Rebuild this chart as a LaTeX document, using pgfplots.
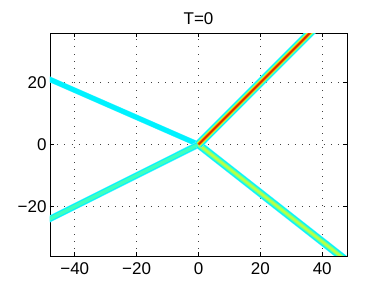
\documentclass[border=0pt]{standalone}
\usepackage{pgfplots}
\pgfplotsset{compat=1.18}
\usepackage{fontspec}
\setmainfont{Liberation Sans}
\definecolor{jcyan}{rgb}{0.0,0.95,1.0}
\definecolor{jaqua}{rgb}{0.25,1.0,0.75}
\definecolor{jgreen}{rgb}{0.5,1.0,0.5}
\definecolor{jyellow}{rgb}{0.85,1.0,0.15}
\definecolor{jorange}{rgb}{1.0,0.55,0.0}
\definecolor{jred}{rgb}{0.85,0.15,0.0}
\pgfplotstableread{
x y
0 0
40 40
}\lineA
\pgfplotstableread{
x y
0 0
-50 21.875
}\lineB
\pgfplotstableread{
x y
0 0
-50 -25
}\lineC
\pgfplotstableread{
x y
0 0
50 -39.2
}\lineD
\begin{document}
\begin{tikzpicture}[x=1pt,y=1pt]
\path[use as bounding box] (0,0) rectangle (384,288);
\begin{axis}[
  at={(50pt,32pt)}, anchor=south west,
  scale only axis, width=297pt, height=223pt,
  xmin=-48, xmax=48, ymin=-36, ymax=36,
  xtick={-40,-20,0,20,40}, ytick={-20,0,20},
  xticklabels={−40,−20,0,20,40},
  yticklabels={−20,0,20},
  tick align=inside, major tick length=4pt,
  tick style={black, line width=0.5pt},
  axis line style={black, line width=0.8pt},
  grid=major,
  major grid style={black!75, line width=0.6pt, dash pattern=on 0.7pt off 6.5pt},
  tick label style={font=\fontsize{17}{20}\selectfont},
  xticklabel style={yshift=-3pt},
  title={T=0},
  title style={font=\fontsize{17}{20}\selectfont, yshift=-1pt},
  clip=true,
]
% line B (cyan only)
\addplot[jcyan!60, line width=5.5pt] table {\lineB};
\addplot[jcyan, line width=4.8pt] table {\lineB};
% line C
\addplot[jcyan!60, line width=6.5pt] table {\lineC};
\addplot[jcyan, line width=5.5pt] table {\lineC};
\addplot[jaqua, line width=3.5pt] table {\lineC};
% line D
\addplot[jcyan!60, line width=8pt] table {\lineD};
\addplot[jcyan, line width=7pt] table {\lineD};
\addplot[jaqua, line width=5pt] table {\lineD};
\addplot[jgreen, line width=3.5pt] table {\lineD};
\addplot[jyellow!70!jgreen, line width=1.8pt] table {\lineD};
% line A
\addplot[jcyan!60, line width=8.5pt] table {\lineA};
\addplot[jcyan, line width=7.5pt] table {\lineA};
\addplot[jaqua, line width=6pt] table {\lineA};
\addplot[jyellow, line width=4.3pt] table {\lineA};
\addplot[jorange, line width=3pt] table {\lineA};
\addplot[jred, line width=1.6pt] table {\lineA};
\end{axis}
\end{tikzpicture}
\end{document}
